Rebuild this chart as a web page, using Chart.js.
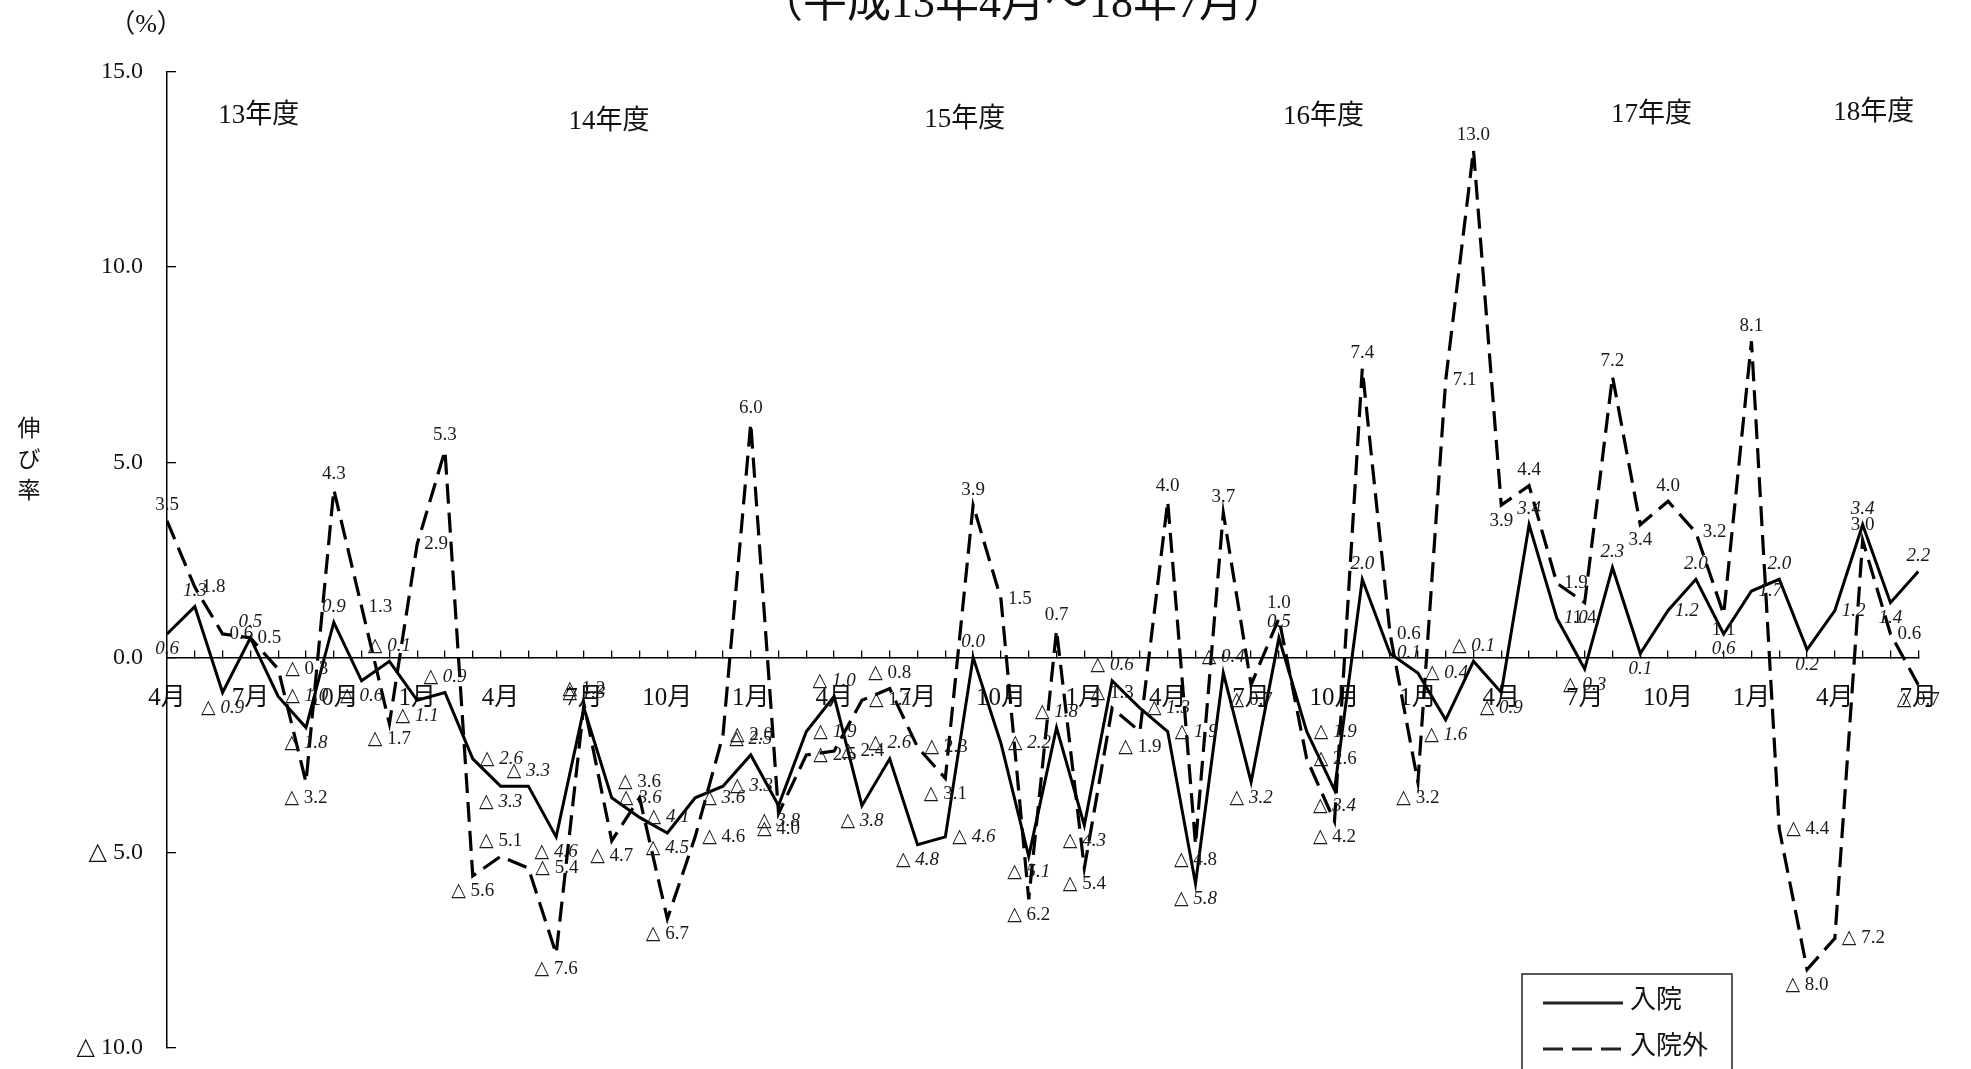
<!DOCTYPE html>
<html>
<head>
<meta charset="utf-8">
<script src="https://cdn.jsdelivr.net/npm/chart.js@4.4.1/dist/chart.umd.min.js"></script>
<style>
  html, body { margin: 0; padding: 0; background: #fff; overflow: hidden; }
  #wrap { width: 1971px; height: 1069px; position: relative; overflow: hidden; }
</style>
</head>
<body>
<div id="wrap"><canvas id="chart" width="1971" height="1095"></canvas></div>
<script>
// months, 平成13年4月 .. 18年7月
const months = [
  '4月','5月','6月','7月','8月','9月','10月','11月','12月','1月','2月','3月',
  '4月','5月','6月','7月','8月','9月','10月','11月','12月','1月','2月','3月',
  '4月','5月','6月','7月','8月','9月','10月','11月','12月','1月','2月','3月',
  '4月','5月','6月','7月','8月','9月','10月','11月','12月','1月','2月','3月',
  '4月','5月','6月','7月','8月','9月','10月','11月','12月','1月','2月','3月',
  '4月','5月','6月','7月'
];
const shownMonths = ['4月', '7月', '10月', '1月'];

// 入院 (solid)
const inpatient = [
  0.6, 1.3, -0.9, 0.5, -1.0, -1.8, 0.9, -0.6, -0.1, -1.1, -0.9, -2.6,
  -3.3, -3.3, -4.6, -1.3, -3.6, -4.1, -4.5, -3.6, -3.3, -2.5, -3.8, -1.9,
  -1.0, -3.8, -2.6, -4.8, -4.6, 0.0, -2.2, -5.1, -1.8, -4.3, -0.6, -1.3,
  -1.9, -5.8, -0.4, -3.2, 0.5, -1.9, -3.4, 2.0, 0.1, -0.4, -1.6, -0.1,
  -0.9, 3.4, 1.0, -0.3, 2.3, 0.1, 1.2, 2.0, 0.6, 1.7, 2.0, 0.2,
  1.2, 3.4, 1.4, 2.2
];

// 入院外 (dashed)
const outpatient = [
  3.5, 1.8, 0.6, 0.5, -0.3, -3.2, 4.3, 1.3, -1.7, 2.9, 5.3, -5.6,
  -5.1, -5.4, -7.6, -1.2, -4.7, -3.6, -6.7, -4.6, -2.0, 6.0, -4.0, -2.5,
  -2.4, -1.1, -0.8, -2.3, -3.1, 3.9, 1.5, -6.2, 0.7, -5.4, -1.3, -1.9,
  4.0, -4.8, 3.7, -0.7, 1.0, -2.6, -4.2, 7.4, 0.6, -3.2, 7.1, 13.0,
  3.9, 4.4, 1.9, 1.4, 7.2, 3.4, 4.0, 3.2, 1.1, 8.1, -4.4, -8.0,
  -7.2, 3.0, 0.6, -0.7
];

const yTicks = [15, 10, 5, 0, -5, -10];
const fiscalYears = ['13年度', '14年度', '15年度', '16年度', '17年度', '18年度'];
const titleText = '（平成13年4月～18年7月）';

// where the fiscal year captions sit (category index, pixel y)
const fyAnchors = [[3.3, 116], [15.9, 122], [28.7, 120], [41.6, 117], [53.4, 115], [61.4, 113]];

const SERIF = '"Liberation Serif", "DejaVu Serif", "Noto Sans CJK JP", serif';

function fmt(v) {
    if (v < 0) return '△ ' + Math.abs(v).toFixed(1);
    return v.toFixed(1);
}

const valueLabels = {
    id: 'valueLabels',
    afterDatasetsDraw(chart) {
        const ctx = chart.ctx;
        chart.data.datasets.forEach((ds, di) => {
            const meta = chart.getDatasetMeta(di);
            ctx.save();
            ctx.fillStyle = '#1a1a1a';
            ctx.font = (di === 0 ? 'italic ' : '') + '19px ' + SERIF;
            meta.data.forEach((pt, i) => {
                const v = ds.data[i];
                const prev = i > 0 ? ds.data[i - 1] : null;
                const next = i < ds.data.length - 1 ? ds.data[i + 1] : null;
                const up = (prev === null || v >= prev) && (next === null || v >= next);
                const down = (prev === null || v <= prev) && (next === null || v <= next);
                const text = fmt(v);
                if (up) {
                    ctx.textAlign = 'center';
                    ctx.textBaseline = 'bottom';
                    ctx.fillText(text, pt.x, pt.y - 6);
                } else if (down) {
                    ctx.textAlign = 'center';
                    ctx.textBaseline = 'top';
                    ctx.fillText(text, pt.x, pt.y + 6);
                } else {
                    ctx.textAlign = 'left';
                    ctx.textBaseline = 'middle';
                    ctx.fillText(text, pt.x + 7, pt.y);
                }
            });
            ctx.restore();
        });
    }
};

const extraText = {
    id: 'extraText',
    afterDraw(chart) {
        const ctx = chart.ctx;
        const xs = chart.scales.x;
        ctx.save();
        ctx.fillStyle = '#111';

        // title, cut by the top edge
        ctx.font = '44px ' + SERIF;
        ctx.textAlign = 'center';
        ctx.textBaseline = 'alphabetic';
        ctx.fillText(titleText, 1023, 17);

        // unit
        ctx.font = '26px ' + SERIF;
        ctx.fillText('（%）', 146, 32);

        // vertical axis caption
        ctx.font = '23px ' + SERIF;
        ctx.textBaseline = 'middle';
        ['伸', 'び', '率'].forEach((c, k) => ctx.fillText(c, 29, 430 + k * 31));

        // fiscal years
        ctx.font = '27px ' + SERIF;
        fiscalYears.forEach((t, k) => {
            ctx.fillText(t, xs.getPixelForValue(fyAnchors[k][0]), fyAnchors[k][1]);
        });

        // legend box
        const bx = 1522, by = 974, bw = 210, bh = 110;
        ctx.strokeStyle = '#222';
        ctx.lineWidth = 1.5;
        ctx.strokeRect(bx, by, bw, bh);
        chart.data.datasets.forEach((ds, di) => {
            const ly = 1003 + di * 46;
            ctx.beginPath();
            ctx.lineWidth = ds.borderWidth;
            ctx.setLineDash(ds.borderDash || []);
            ctx.moveTo(1543, ly);
            ctx.lineTo(1623, ly);
            ctx.stroke();
            ctx.setLineDash([]);
            ctx.font = '26px ' + SERIF;
            ctx.textAlign = 'left';
            ctx.textBaseline = 'middle';
            ctx.fillText(ds.label, 1630, ly - 2);
        });
        ctx.restore();
    }
};

new Chart(document.getElementById('chart'), {
    type: 'line',
    data: {
        labels: months,
        datasets: [
            {
                label: '入院',
                data: inpatient,
                borderColor: '#000',
                borderWidth: 3,
                pointRadius: 0,
                tension: 0,
                fill: false
            },
            {
                label: '入院外',
                data: outpatient,
                borderColor: '#000',
                borderWidth: 3.2,
                borderDash: [20, 9],
                pointRadius: 0,
                tension: 0,
                fill: false
            }
        ]
    },
    options: {
        responsive: false,
        animation: false,
        devicePixelRatio: 1,
        layout: { padding: { left: 0, right: 52, top: 72, bottom: 0 } },
        scales: {
            x: {
                type: 'category',
                position: { y: 0 },
                offset: false,
                afterFit: (s) => { s.height = 0; },
                grid: { drawOnChartArea: false, tickLength: -8, color: '#000', lineWidth: 1.3 },
                border: { color: '#000', width: 1.5 },
                ticks: {
                    autoSkip: false,
                    maxRotation: 0,
                    padding: 34,
                    color: '#111',
                    font: { family: SERIF, size: 25 },
                    callback: function (value) {
                        const m = this.getLabelForValue(value);
                        return shownMonths.includes(m) ? m : '';
                    }
                }
            },
            y: {
                min: -10,
                max: 15,
                afterFit: (s) => { s.width = 167; },
                afterBuildTicks: (s) => { s.ticks = yTicks.map(v => ({ value: v })); },
                grid: { drawOnChartArea: false, tickLength: -9, color: '#000', lineWidth: 1.3 },
                border: { color: '#000', width: 1.5 },
                ticks: {
                    padding: 33,
                    color: '#111',
                    font: { family: SERIF, size: 24 },
                    callback: (v) => fmt(v)
                }
            }
        },
        plugins: {
            legend: { display: false },
            tooltip: { enabled: false }
        }
    },
    plugins: [valueLabels, extraText]
});
</script>
</body>
</html>
